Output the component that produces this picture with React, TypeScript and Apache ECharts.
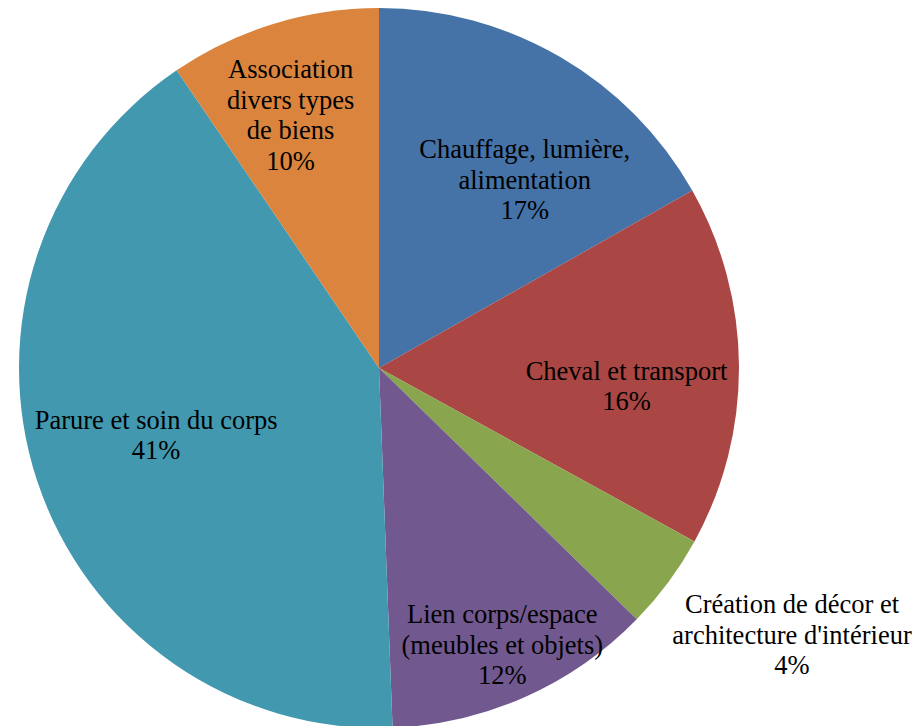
import React, { useEffect, useRef } from "react";
import * as echarts from "echarts";

const categories = [
  "Chauffage, lumière,\nalimentation",
  "Cheval et transport",
  "Création de décor et\narchitecture d'intérieur",
  "Lien corps/espace\n(meubles et objets)",
  "Parure et soin du corps",
  "Association\ndivers types\nde biens",
];
const values = [16.8, 16.2, 4.3, 12.1, 41.1, 9.5];
const colors = ["#4572A7", "#AA4643", "#89A54E", "#71588F", "#4198AF", "#DB843D"];
// label shifts from the library's default inside label position
const labelShiftX = [53.5, 64.5, 266, 49, -49, -34.6];
const labelShiftY = [-30, 19, 158, 109.5, 10, -78];

const FONT = "'Liberation Serif', 'Times New Roman', serif";

export default function App() {
  const ref = useRef<HTMLDivElement>(null);
  useEffect(() => {
    const chart = echarts.init(ref.current!, null, { renderer: "svg" });
    chart.setOption({
      animation: false,
      backgroundColor: "#ffffff",
      textStyle: { fontFamily: FONT },
      series: [
        {
          type: "pie",
          center: [379, 368],
          radius: [0, 360],
          startAngle: 90,
          clockwise: true,
          percentPrecision: 0,
          avoidLabelOverlap: false,
          labelLine: { show: false },
          label: {
            show: true,
            position: "inside",
            formatter: "{b}\n{d}%",
            color: "#000000",
            fontFamily: FONT,
            fontSize: 26.5,
            lineHeight: 30.5,
            align: "center",
          },
          emphasis: { disabled: true },
          labelLayout: (p: any) => ({
            dx: labelShiftX[p.dataIndex],
            dy: labelShiftY[p.dataIndex],
          }),
          data: categories.map((name, i) => ({
            name,
            value: values[i],
            itemStyle: { color: colors[i] },
          })),
        },
      ],
    });
    return () => chart.dispose();
  }, []);
  return (
    <div
      ref={ref}
      style={{ position: "fixed", left: 0, top: 0, width: 918, height: 726 }}
    />
  );
}
